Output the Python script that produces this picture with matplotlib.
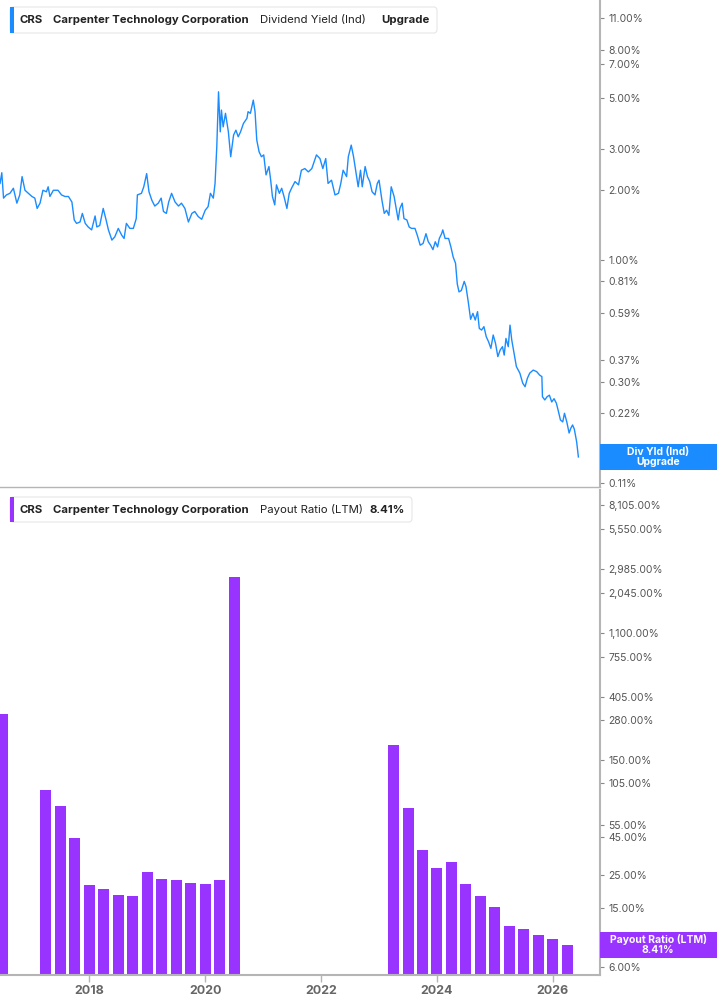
import matplotlib
matplotlib.use("Agg")
import matplotlib.pyplot as plt
from matplotlib.patches import FancyBboxPatch, Rectangle
from matplotlib.ticker import FixedLocator, FixedFormatter, NullLocator

plt.rcParams['font.family'] = ['Inter', 'DejaVu Sans']

# dividend yield (ind), %
yield_dates = [
    2016.46, 2016.49, 2016.52, 2016.57, 2016.63, 2016.69, 2016.75, 2016.80, 2016.84, 2016.89,
    2016.95, 2017.01, 2017.06, 2017.10, 2017.15, 2017.20, 2017.26, 2017.29, 2017.32, 2017.38,
    2017.46, 2017.52, 2017.58, 2017.64, 2017.70, 2017.74, 2017.78, 2017.84, 2017.88, 2017.93,
    2017.98, 2018.04, 2018.10, 2018.13, 2018.18, 2018.24, 2018.29, 2018.33, 2018.39, 2018.44,
    2018.50, 2018.56, 2018.60, 2018.64, 2018.70, 2018.76, 2018.81, 2018.83, 2018.90, 2018.94,
    2018.99, 2019.03, 2019.08, 2019.13, 2019.19, 2019.24, 2019.28, 2019.33, 2019.37, 2019.42,
    2019.48, 2019.54, 2019.59, 2019.65, 2019.71, 2019.77, 2019.82, 2019.88, 2019.94, 2020.00,
    2020.05, 2020.09, 2020.14, 2020.17, 2020.20, 2020.23, 2020.26, 2020.28, 2020.31, 2020.35,
    2020.40, 2020.44, 2020.49, 2020.53, 2020.57, 2020.61, 2020.66, 2020.72, 2020.74, 2020.78,
    2020.83, 2020.86, 2020.89, 2020.93, 2020.97, 2021.01, 2021.05, 2021.10, 2021.13, 2021.16,
    2021.20, 2021.23, 2021.28, 2021.32, 2021.36, 2021.41, 2021.45, 2021.49, 2021.55, 2021.61,
    2021.66, 2021.72, 2021.78, 2021.84, 2021.88, 2021.92, 2021.98, 2022.03, 2022.08, 2022.12,
    2022.18, 2022.24, 2022.30, 2022.34, 2022.38, 2022.44, 2022.47, 2022.52, 2022.56, 2022.60,
    2022.64, 2022.68, 2022.71, 2022.76, 2022.80, 2022.84, 2022.88, 2022.93, 2022.97, 2023.00,
    2023.05, 2023.09, 2023.13, 2023.17, 2023.21, 2023.26, 2023.30, 2023.33, 2023.36, 2023.40,
    2023.43, 2023.48, 2023.52, 2023.56, 2023.62, 2023.66, 2023.71, 2023.76, 2023.81, 2023.85,
    2023.89, 2023.93, 2023.97, 2024.01, 2024.04, 2024.08, 2024.10, 2024.14, 2024.20, 2024.24,
    2024.28, 2024.32, 2024.35, 2024.38, 2024.42, 2024.47, 2024.50, 2024.54, 2024.58, 2024.62,
    2024.66, 2024.70, 2024.73, 2024.77, 2024.81, 2024.85, 2024.89, 2024.93, 2024.97, 2025.01,
    2025.05, 2025.09, 2025.13, 2025.16, 2025.19, 2025.23, 2025.26, 2025.29, 2025.33, 2025.37,
    2025.43, 2025.48, 2025.52, 2025.56, 2025.60, 2025.66, 2025.72, 2025.77, 2025.81, 2025.82,
    2025.86, 2025.90, 2025.94, 2025.98, 2026.02, 2026.06, 2026.09, 2026.13, 2026.17, 2026.20,
    2026.24, 2026.28, 2026.31, 2026.34, 2026.37, 2026.41, 2026.44,
]
yield_values = [
    2.14, 2.38, 1.85, 1.91, 1.94, 2.04, 1.76, 1.91, 2.29, 2.00,
    1.94, 1.88, 1.85, 1.67, 1.76, 2.00, 1.97, 2.07, 1.88, 2.00,
    2.00, 1.91, 1.88, 1.88, 1.78, 1.49, 1.44, 1.46, 1.59, 1.44,
    1.39, 1.35, 1.55, 1.39, 1.41, 1.67, 1.49, 1.35, 1.22, 1.26,
    1.37, 1.28, 1.24, 1.44, 1.37, 1.37, 1.51, 1.91, 1.94, 2.07,
    2.36, 1.97, 1.81, 1.71, 1.76, 1.85, 1.62, 1.59, 1.78, 1.94,
    1.78, 1.71, 1.76, 1.67, 1.46, 1.59, 1.62, 1.54, 1.50, 1.64,
    1.70, 1.94, 1.85, 2.14, 3.08, 5.31, 3.57, 4.43, 3.75, 4.29,
    3.57, 2.79, 3.46, 3.63, 3.40, 3.57, 3.88, 4.08, 4.36, 4.29,
    4.89, 4.36, 3.29, 2.93, 2.79, 2.84, 2.33, 2.53, 2.21, 1.88,
    1.73, 2.11, 1.94, 2.04, 1.88, 1.67, 1.94, 2.04, 2.18, 2.11,
    2.44, 2.48, 2.40, 2.48, 2.65, 2.84, 2.74, 2.48, 2.74, 2.14,
    2.21, 1.91, 1.94, 2.14, 2.44, 2.29, 2.79, 3.13, 2.79, 2.40,
    2.07, 2.44, 2.07, 2.53, 2.29, 2.18, 1.97, 1.91, 2.14, 2.21,
    1.81, 1.59, 1.64, 1.56, 2.07, 1.88, 1.64, 1.49, 1.67, 1.76,
    1.51, 1.49, 1.39, 1.37, 1.37, 1.28, 1.16, 1.18, 1.30, 1.20,
    1.16, 1.11, 1.20, 1.14, 1.24, 1.30, 1.35, 1.24, 1.24, 1.14,
    1.03, 0.97, 0.79, 0.73, 0.74, 0.81, 0.77, 0.66, 0.556, 0.59,
    0.552, 0.60, 0.508, 0.50, 0.517, 0.468, 0.445, 0.417, 0.476, 0.438,
    0.384, 0.41, 0.424, 0.39, 0.46, 0.424, 0.525, 0.453, 0.397, 0.348,
    0.326, 0.295, 0.285, 0.31, 0.326, 0.336, 0.331, 0.32, 0.315, 0.258,
    0.25, 0.258, 0.262, 0.245, 0.253, 0.242, 0.226, 0.205, 0.201, 0.219,
    0.201, 0.18, 0.189, 0.195, 0.187, 0.165, 0.142,
]

# payout ratio (LTM), %, quarterly
payout_dates = [
    2016.50,
    2017.25, 2017.50, 2017.75, 2018.00, 2018.25, 2018.50, 2018.75,
    2019.00, 2019.25, 2019.50, 2019.75, 2020.00, 2020.25, 2020.50,
    2023.25, 2023.50, 2023.75, 2024.00, 2024.25, 2024.50, 2024.75,
    2025.00, 2025.25, 2025.50, 2025.75, 2026.00, 2026.25,
]
payout_values = [
    308,
    94, 73, 44.7, 21.4, 20.1, 18.3, 18.0,
    26.2, 23.5, 23.2, 22.1, 21.6, 23.1, 2630,
    191, 71.5, 37, 28, 30.8, 21.8, 18.1,
    15.2, 11.3, 10.8, 9.8, 9.25, 8.41,
]

yield_ticks = [11, 8, 7, 5, 3, 2, 1, 0.81, 0.59, 0.37, 0.30, 0.22, 0.14, 0.11]
payout_ticks = [8105, 5550, 2985, 2045, 1100, 755, 405, 280, 150, 105, 55, 45, 25, 15, 8, 6]
year_ticks = [2018, 2020, 2022, 2024, 2026]

blue = '#1a8cff'
purple = '#9933ff'
grey = '#b5b5b5'
txt = '#555555'

W, H = 717, 1005
fig = plt.figure(figsize=(W / 100, H / 100), dpi=100)


def axes_px(l, t, r, b):
    return fig.add_axes([l / W, 1 - b / H, (r - l) / W, (b - t) / H])


ax1 = axes_px(0, 0, 600, 487)
ax2 = axes_px(0, 490, 600, 975)

ax1.plot(yield_dates, yield_values, color=blue, lw=1.0)
ax1.set_yscale('log')
ax1.set_ylim(0.1054, 13.2)

ax2.bar(payout_dates, payout_values, width=0.19, color=purple, log=True)
ax2.set_yscale('log')
ax2.set_ylim(5.26, 10200)

for ax, ticks in ((ax1, yield_ticks), (ax2, payout_ticks)):
    ax.set_xlim(2016.459, 2026.813)
    ax.yaxis.tick_right()
    ax.yaxis.set_major_locator(FixedLocator(ticks))
    ax.yaxis.set_major_formatter(FixedFormatter([f'{v:,.2f}%' for v in ticks]))
    ax.yaxis.set_minor_locator(NullLocator())
    ax.tick_params(axis='y', length=3, width=0.8, color='#888888', labelsize=7.5,
                   labelcolor=txt, pad=3)
    for s in ('left', 'top'):
        ax.spines[s].set_visible(False)
    ax.spines['right'].set_color(grey)
    ax.spines['right'].set_linewidth(1.5)
    ax.spines['bottom'].set_color(grey)
    ax.set_facecolor('none')

ax1.spines['bottom'].set_linewidth(1.0)
ax1.set_xticks([])
ax2.spines['bottom'].set_linewidth(1.5)
ax2.set_xticks(year_ticks)
ax2.set_xticklabels([str(y) for y in year_ticks])
ax2.xaxis.set_minor_locator(NullLocator())
ax2.tick_params(axis='x', length=5, width=1, color=grey, labelsize=9,
                labelcolor='#666666', pad=2)
for lab in ax2.get_xticklabels():
    lab.set_fontweight('bold')


def fx(x):
    return x / W


def fy(y):
    return 1 - y / H


# legend boxes
def legend_box(top, bottom, right, colour, parts):
    box = FancyBboxPatch((fx(10), fy(bottom)), fx(right - 10), (bottom - top) / H,
                         boxstyle='round,pad=0,rounding_size=0.004',
                         transform=fig.transFigure, facecolor='white',
                         edgecolor='#e6e6e6', lw=0.8, zorder=5)
    fig.add_artist(box)
    fig.add_artist(Rectangle((fx(10), fy(bottom)), fx(3.5), (bottom - top) / H,
                             transform=fig.transFigure, facecolor=colour,
                             edgecolor='none', zorder=6))
    yc = fy((top + bottom) / 2)
    for x, s, w in parts:
        fig.text(fx(x), yc, s, ha='left', va='center', fontsize=8.2,
                 fontweight=w, color='#222222', zorder=7)


legend_box(7, 33, 437, blue, [
    (20, 'CRS', 'bold'),
    (53, 'Carpenter Technology Corporation', 'bold'),
    (260, 'Dividend Yield (Ind)', 'normal'),
    (381, 'Upgrade', 'bold'),
])
legend_box(497, 522, 412, purple, [
    (20, 'CRS', 'bold'),
    (53, 'Carpenter Technology Corporation', 'bold'),
    (260, 'Payout Ratio (LTM)', 'normal'),
    (370, '8.41%', 'bold'),
])


# last-value tags on the right axis
def value_tag(ax, value, colour, text):
    fig.canvas.draw()
    yd = ax.transData.transform((ax.get_xlim()[1], value))[1]
    yc = yd / fig.bbox.height
    h = 26 / H
    fig.add_artist(Rectangle((fx(600), yc - h / 2), 1 - fx(600), h,
                             transform=fig.transFigure, facecolor=colour,
                             edgecolor='none', zorder=8))
    fig.text(fx(658), yc, text, ha='center', va='center', fontsize=7.5,
             fontweight='bold', color='white', linespacing=1.0, zorder=9)


value_tag(ax1, yield_values[-1], blue, 'Div Yld (Ind)\nUpgrade')
value_tag(ax2, payout_values[-1], purple, 'Payout Ratio (LTM)\n8.41%')

fig.savefig('out.png', dpi=100)
